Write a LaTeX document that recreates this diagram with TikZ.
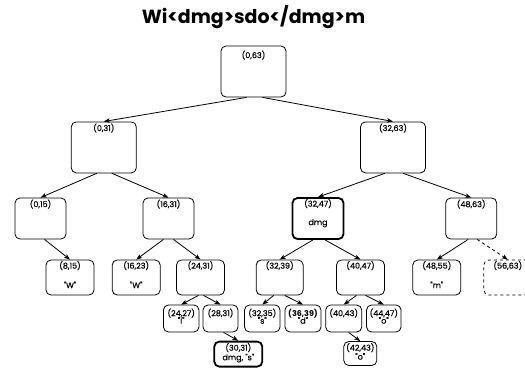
\documentclass[tikz,border=0pt]{standalone}
\usepackage{fontspec}
\setmainfont{Poppins}
\newfontfamily\lblfont[FakeBold=0.5]{Poppins}
\usetikzlibrary{arrows.meta}

\tikzset{
  box/.style={draw, rounded corners=5pt, line width=0.8pt, inner sep=0pt},
  hot/.style={line width=1.8pt},
  idx/.style={anchor=base, yshift=-#1pt, font=\lblfont\fontsize{8}{9}\selectfont, inner sep=0pt},
  idx/.default=9.5,
  val/.style={anchor=base, yshift=-#1pt, font=\lblfont\fontsize{8}{9}\selectfont, inner sep=0pt},
  link/.style={line width=0.8pt, -{Stealth[length=6pt, width=4.5pt, inset=1.5pt]}},
}

\begin{document}
\begin{tikzpicture}[x=1pt, y=-1pt]
  \useasboundingbox (0,0) rectangle (525,367);

  \node[font=\fontsize{19}{22}\selectfont\bfseries] (title) at (253.5,17) {Wi<dmg>sdo</dmg>m};

  % level 0 and 1
  \node[box, minimum width=65pt, minimum height=51pt, label={[idx=12.5]north:(0,63)}] (n0063) at (253.5,71.5) {};
  \node[box, minimum width=65pt, minimum height=51pt, label={[idx]north:(0,31)}] (n0031) at (103.8,147.4) {};
  \node[box, minimum width=65pt, minimum height=51pt, label={[idx]north:(32,63)}] (n3263) at (393,147.4) {};

  % level 2
  \node[box, minimum width=51pt, minimum height=41pt, label={[idx]north:(0,15)}] (n0015) at (40.5,218.5) {};
  \node[box, minimum width=51pt, minimum height=41pt, label={[idx]north:(16,31)}] (n1631) at (168.5,218.5) {};
  \node[box, hot, minimum width=51pt, minimum height=41pt, label={[idx]north:(32,47)}, label={[val=28]north:dmg}] (n3247) at (318,218.5) {};
  \node[box, minimum width=51pt, minimum height=41pt, label={[idx]north:(48,63)}] (n4863) at (471.2,218.5) {};

  % level 3
  \node[box, minimum width=48pt, minimum height=35pt, label={[idx=9]north:(8,15)}, label={[val=28.5]north:"W"}] (n0815) at (70,277.5) {};
  \node[box, minimum width=48pt, minimum height=35pt, label={[idx=9]north:(16,23)}, label={[val=28.5]north:"W"}] (n1623) at (136.2,277.5) {};
  \node[box, minimum width=48pt, minimum height=35pt, label={[idx=9]north:(24,31)}] (n2431) at (200.5,277.5) {};
  \node[box, minimum width=47pt, minimum height=35pt, label={[idx=9]north:(32,39)}] (n3239) at (279.7,277.5) {};
  \node[box, minimum width=48pt, minimum height=35pt, label={[idx=9]north:(40,47)}] (n4047) at (360.5,277.5) {};
  \node[box, minimum width=48pt, minimum height=35pt, label={[idx=9]north:(48,55)}, label={[val=28.5]north:"m"}] (n4855) at (436.8,277.5) {};
  \node[box, dashed, minimum width=48pt, minimum height=35pt, label={[idx=9]north:(56,63)}] (n5663) at (507.8,277.5) {};

  % level 4
  \node[box, minimum width=35.5pt, minimum height=27pt, label={[idx=11.5]north:(24,27)}, label={[val=19]north:"i"}] (n2427) at (181.2,318.5) {};
  \node[box, minimum width=35pt, minimum height=27pt, label={[idx=11.5]north:(28,31)}] (n2831) at (220.5,318.5) {};
  \node[box, minimum width=35.5pt, minimum height=27pt, label={[idx=11.5]north:(32,35)}, label={[val=19]north:"s"}] (n3235) at (262.3,318.5) {};
  \node[box, minimum width=36pt, minimum height=27pt, label={[idx=11.5, font=\fontsize{8}{9}\selectfont\bfseries]north:(36,39)}, label={[val=19]north:"d"}] (n3639) at (303,318.5) {};
  \node[box, minimum width=36pt, minimum height=27pt, label={[idx=11.5]north:(40,43)}] (n4043) at (343.7,318.5) {};
  \node[box, minimum width=34.5pt, minimum height=27pt, label={[idx=11.5]north:(44,47)}, label={[val=19]north:"o"}] (n4447) at (383.8,318.5) {};

  % level 5
  \node[box, hot, minimum width=48pt, minimum height=25pt, label={[idx=10]north:(30,31)}, label={[val=19.5]north:{dmg, "s"}}] (n3031) at (238.3,354.1) {};
  \node[box, minimum width=33pt, minimum height=24pt, label={[idx=9.5]north:(42,43)}, label={[val=18.5]north:"o"}] (n4243) at (360.3,353.5) {};

  % links
  \draw[link] ([xshift=-7pt]n0063.south) -- (n0031.north);
  \draw[link] ([xshift=9pt]n0063.south) -- (n3263.north);
  \draw[link] ([xshift=-7pt]n0031.south) -- (n0015.north);
  \draw[link] ([xshift=8pt]n0031.south) -- (n1631.north);
  \draw[link] ([xshift=-8pt]n3263.south) -- (n3247.north);
  \draw[link] ([xshift=10pt]n3263.south) -- (n4863.north);
  \draw[link] ([xshift=4pt]n0015.south) -- (n0815.north);
  \draw[link] ([xshift=-5pt]n1631.south) -- (n1623.north);
  \draw[link] ([xshift=5pt]n1631.south) -- (n2431.north);
  \draw[link] ([xshift=-5pt]n3247.south) -- (n3239.north);
  \draw[link] ([xshift=7pt]n3247.south) -- (n4047.north);
  \draw[link] ([xshift=-3pt]n4863.south) -- (n4855.north);
  \draw[link, dashed] ([xshift=6pt]n4863.south) -- (n5663.north);
  \draw[link] ([xshift=-2pt]n2431.south) -- (n2427.north);
  \draw[link] ([xshift=3pt]n2431.south) -- (n2831.north);
  \draw[link] ([xshift=-6pt]n3239.south) -- (n3235.north);
  \draw[link] ([xshift=5pt]n3239.south) -- (n3639.north);
  \draw[link] ([xshift=-4pt]n4047.south) -- (n4043.north);
  \draw[link] ([xshift=5pt]n4047.south) -- (n4447.north);
  \draw[link] ([xshift=3pt]n2831.south) -- (n3031.north);
  \draw[link] ([xshift=5pt]n4043.south) -- (n4243.north);
\end{tikzpicture}
\end{document}
